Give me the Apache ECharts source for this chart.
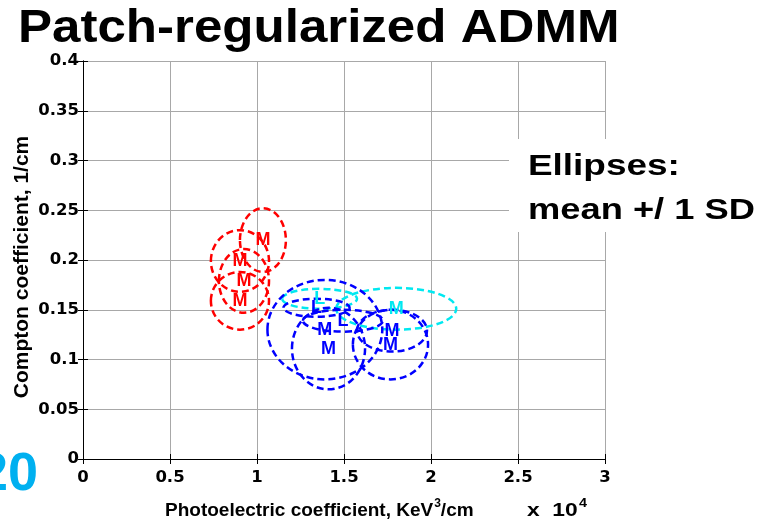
<!DOCTYPE html>
<html>
<head>
<meta charset="utf-8">
<script src="https://cdn.jsdelivr.net/npm/echarts@6/dist/echarts.min.js"></script>
<style>
  html, body { margin: 0; padding: 0; background: #ffffff; }
  #chart { width: 781px; height: 529px; }
</style>
</head>
<body>
<div id="chart"></div>
<script>
// Axis ticks (photoelectric in units of 1e4 KeV^3/cm, Compton in 1/cm)
const xTicks = [0, 0.5, 1, 1.5, 2, 2.5, 3];
const yTicks = [0, 0.05, 0.1, 0.15, 0.2, 0.25, 0.3, 0.35, 0.4];

// Red group: means and standard deviations
const redMeanX = [1.034, 0.902, 0.925, 0.902];
const redMeanY = [0.220, 0.199, 0.179, 0.159];
const redSdX   = [0.132, 0.167, 0.144, 0.167];
const redSdY   = [0.032, 0.031, 0.032, 0.029];
const redLabel = ['M', 'M', 'M', 'M'];

// Blue group
const blueMeanX = [1.390, 1.411, 1.342, 1.494, 1.776, 1.767];
const blueMeanY = [0.130, 0.111, 0.152, 0.139, 0.129, 0.115];
const blueSdX   = [0.330, 0.210, 0.190, 0.230, 0.201, 0.216];
const blueSdY   = [0.050, 0.041, 0.009, 0.011, 0.021, 0.035];
const blueLabel = ['M', 'M', 'L', 'L', 'M', 'M'];

// Cyan group
const cyanMeanX = [1.360, 1.800];
const cyanMeanY = [0.161, 0.151];
const cyanSdX   = [0.215, 0.345];
const cyanSdY   = [0.010, 0.021];
const cyanLabel = ['L', 'M'];

const FONT = '"Liberation Sans", Arial, Helvetica, sans-serif';
const TICK_FONT = '"DejaVu Sans", sans-serif';
const RED = '#ff0000', BLUE = '#0000ff', CYAN = '#00e8f0';

function rows(mx, my, sx, sy, lab) {
  return mx.map((x, i) => [x, my[i], sx[i], sy[i], lab[i]]);
}

function ellipseSeries(name, data, color, z) {
  return {
    name, type: 'custom', z,
    data,
    renderItem(params, api) {
      const c = api.coord([api.value(0), api.value(1)]);
      const s = api.size([api.value(2), api.value(3)]);
      return {
        type: 'ellipse',
        shape: { cx: c[0], cy: c[1], rx: s[0], ry: s[1] },
        style: { fill: null, stroke: color, lineWidth: 2.5, lineDash: [7, 4] }
      };
    }
  };
}

function labelSeries(name, data, color, z) {
  return {
    name, type: 'custom', z,
    data,
    renderItem(params, api) {
      const c = api.coord([api.value(0), api.value(1)]);
      return {
        type: 'text',
        x: c[0], y: c[1],
        style: {
          text: data[params.dataIndex][4],
          fill: color,
          font: 'bold 18px ' + FONT,
          align: 'center', verticalAlign: 'middle'
        }
      };
    }
  };
}

const redData = rows(redMeanX, redMeanY, redSdX, redSdY, redLabel);
const blueData = rows(blueMeanX, blueMeanY, blueSdX, blueSdY, blueLabel);
const cyanData = rows(cyanMeanX, cyanMeanY, cyanSdX, cyanSdY, cyanLabel);

const tickFmt = v => String(+v.toFixed(2));
const supStyle = { fontFamily: FONT, fontWeight: 'bold', fontSize: 12, verticalAlign: 'top', padding: [0, 0, 15, 1] };

const chart = echarts.init(document.getElementById('chart'), null, { renderer: 'canvas' });

chart.setOption({
  animation: false,
  backgroundColor: '#ffffff',
  grid: { left: 83, right: 176, top: 61, bottom: 70 },
  xAxis: [{
    type: 'value', min: xTicks[0], max: xTicks[xTicks.length - 1], interval: 0.5,
    axisLine: { lineStyle: { color: '#000', width: 1 } },
    axisTick: { inside: true, length: 5, lineStyle: { color: '#000' } },
    axisLabel: { color: '#000', fontFamily: TICK_FONT, fontWeight: 'bold', fontSize: 16.5, margin: 10, formatter: tickFmt },
    splitLine: { show: true, lineStyle: { color: '#a8a8a8', width: 1 } }
  }, {
    type: 'value', position: 'top', min: 0, max: 3, interval: 0.5,
    axisLine: { show: true, lineStyle: { color: '#000', width: 1 } },
    axisTick: { inside: true, length: 5, lineStyle: { color: '#000' } },
    axisLabel: { show: false }, splitLine: { show: false }
  }],
  yAxis: [{
    type: 'value', min: yTicks[0], max: yTicks[yTicks.length - 1], interval: 0.05,
    axisLine: { show: true, lineStyle: { color: '#000', width: 1 } },
    axisTick: { show: true, inside: true, length: 5, lineStyle: { color: '#000' } },
    axisLabel: { color: '#000', fontFamily: TICK_FONT, fontWeight: 'bold', fontSize: 16.5, margin: 4, formatter: tickFmt },
    splitLine: { show: true, lineStyle: { color: '#a8a8a8', width: 1 } }
  }, {
    type: 'value', position: 'right', min: 0, max: 0.4, interval: 0.05,
    axisLine: { show: true, lineStyle: { color: '#000', width: 1 } },
    axisTick: { show: true, inside: true, length: 5, lineStyle: { color: '#000' } },
    axisLabel: { show: false }, splitLine: { show: false }
  }],
  graphic: [
    { type: 'text', x: 18, y: 29, scaleX: 1.11, z: 100,
      style: { text: 'Patch-regularized ADMM', fill: '#000', font: 'bold 46px ' + FONT, align: 'left', verticalAlign: 'middle' } },
    // White panel holding the annotation inside the plot
    { type: 'rect', z: 100, shape: { x: 509, y: 139, width: 262, height: 93 }, style: { fill: '#ffffff' } },
    { type: 'text', x: 528, y: 167, scaleX: 1.23, z: 101,
      style: { text: 'Ellipses:', fill: '#000', font: 'bold 30px ' + FONT, align: 'left', verticalAlign: 'middle' } },
    { type: 'text', x: 528, y: 211, scaleX: 1.21, z: 101,
      style: { text: 'mean +/ 1 SD', fill: '#000', font: 'bold 30px ' + FONT, align: 'left', verticalAlign: 'middle' } },
    { type: 'text', x: 38, y: 475, z: 100,
      style: { text: '20', fill: '#00b0f0', font: 'bold 54px ' + FONT, align: 'right', verticalAlign: 'middle' } },
    { type: 'text', x: 22, y: 267, rotation: Math.PI / 2, z: 100,
      style: { text: 'Compton coefficient, 1/cm', fill: '#000', font: 'bold 21px ' + FONT, align: 'center', verticalAlign: 'middle' } },
    { type: 'text', x: 165, y: 511, z: 100,
      style: {
        text: 'Photoelectric coefficient, KeV{sup|3}/cm', fill: '#000', font: 'bold 19px ' + FONT,
        align: 'left', verticalAlign: 'middle', rich: { sup: supStyle }
      } },
    { type: 'text', x: 527, y: 511, scaleX: 1.2, z: 100,
      style: {
        text: 'x  10{sup|4}', fill: '#000', font: 'bold 19px ' + FONT,
        align: 'left', verticalAlign: 'middle', rich: { sup: supStyle }
      } }
  ],
  series: [
    ellipseSeries('red', redData, RED, 5),
    ellipseSeries('cyan', cyanData, CYAN, 6),
    ellipseSeries('blue', blueData, BLUE, 7),
    labelSeries('redLabels', redData, RED, 10),
    labelSeries('blueLabels', blueData, BLUE, 11),
    labelSeries('cyanLabels', cyanData, CYAN, 12)
  ]
});
</script>
</body>
</html>
